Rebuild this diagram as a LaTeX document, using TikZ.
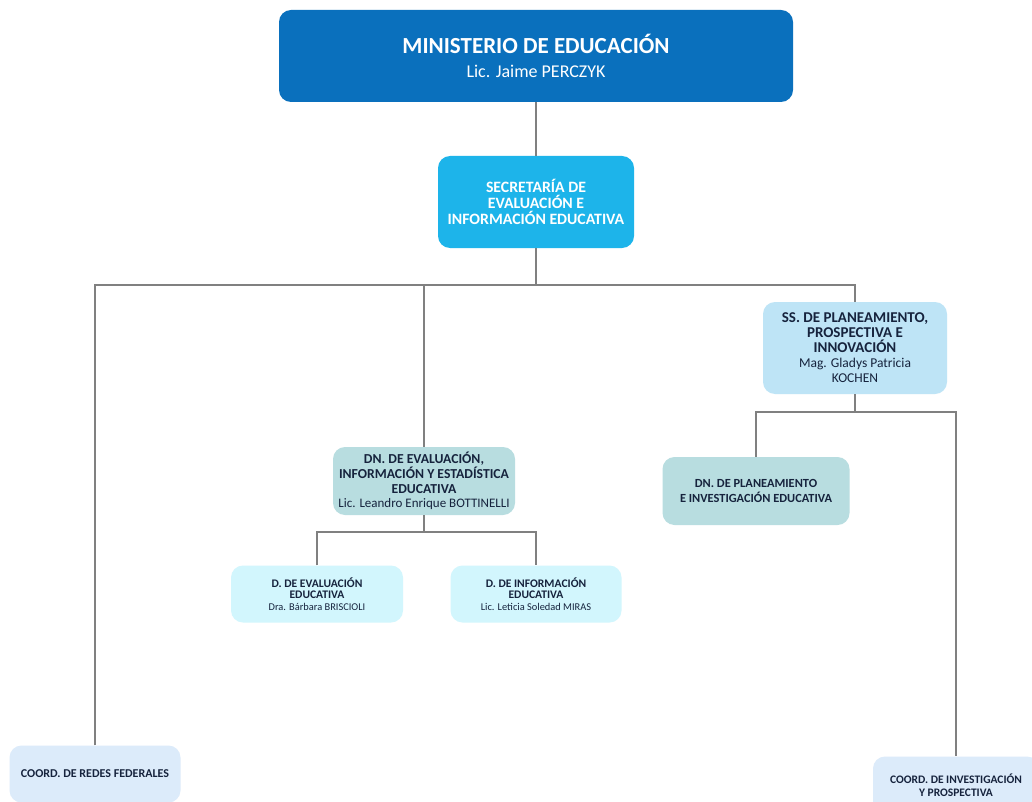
\documentclass[tikz,border=0pt]{standalone}
\usepackage{fontspec}
\setmainfont{Carlito}
\definecolor{azulmin}{HTML}{0A70BD}
\definecolor{celeste}{HTML}{1DB4EA}
\definecolor{celclaro}{HTML}{BEE4F6}
\definecolor{verdeagua}{HTML}{B8DDE0}
\definecolor{aguaclaro}{HTML}{D2F6FD}
\definecolor{azulpalido}{HTML}{DCEBFA}
\definecolor{tinta}{HTML}{16233D}

\begin{document}
\begin{tikzpicture}[x=1pt,y=-1pt,
    caja/.style={rounded corners=12pt,align=center,inner sep=1pt,text=tinta},
    linea/.style={draw=gray,line width=1.2pt}]
    \clip (0,0) rectangle (1032,802);
    \fill[white] (0,0) rectangle (1032,802);
    \node[caja,fill=azulmin,text=white,minimum width=514pt,minimum height=92pt,
        font=\fontsize{18}{24}\selectfont] (min) at (536,56)
        {{\fontsize{23}{24}\selectfont\bfseries MINISTERIO DE EDUCACIÓN}\\Lic. Jaime PERCZYK};
    \node[caja,fill=celeste,text=white,minimum width=196pt,minimum height=92pt,
        font=\fontsize{15.8}{16}\selectfont\bfseries] (sec) at (536,202)
        {SECRETARÍA DE\\EVALUACIÓN E\\INFORMACIÓN EDUCATIVA};
    \node[caja,fill=celclaro,minimum width=184pt,minimum height=92pt,
        font=\fontsize{13.5}{15}\selectfont] (ssp) at (855,348)
        {{\fontsize{15}{15}\selectfont\bfseries SS. DE PLANEAMIENTO,}\\{\fontsize{15}{15}\selectfont\bfseries PROSPECTIVA E}\\{\fontsize{15}{15}\selectfont\bfseries INNOVACIÓN}\\Mag. Gladys Patricia\\KOCHEN};
    \node[caja,fill=verdeagua,minimum width=182pt,minimum height=68pt,
        font=\fontsize{13}{14.7}\selectfont] (dneval) at (424,481)
        {{\fontsize{13.7}{14.7}\selectfont\bfseries DN. DE EVALUACIÓN,}\\{\fontsize{13.7}{14.7}\selectfont\bfseries INFORMACIÓN Y ESTADÍSTICA}\\{\fontsize{13.7}{14.7}\selectfont\bfseries EDUCATIVA}\\Lic. Leandro Enrique BOTTINELLI};
    \node[caja,fill=verdeagua,minimum width=187pt,minimum height=68pt,
        font=\fontsize{12.4}{15}\selectfont\bfseries] (dnplan) at (756,491)
        {DN. DE PLANEAMIENTO\\E INVESTIGACIÓN EDUCATIVA};
    \node[caja,fill=aguaclaro,minimum width=172pt,minimum height=57pt,
        font=\fontsize{10.4}{11.5}\selectfont] (deval) at (317,594)
        {{\fontsize{11.6}{11.5}\selectfont\bfseries D. DE EVALUACIÓN}\\{\fontsize{11.6}{11.5}\selectfont\bfseries EDUCATIVA}\\Dra. Bárbara BRISCIOLI};
    \node[caja,fill=aguaclaro,minimum width=171pt,minimum height=57pt,
        font=\fontsize{10.4}{11.5}\selectfont] (dinf) at (536,594)
        {{\fontsize{11.6}{11.5}\selectfont\bfseries D. DE INFORMACIÓN}\\{\fontsize{11.6}{11.5}\selectfont\bfseries EDUCATIVA}\\Lic. Leticia Soledad MIRAS};
    \node[caja,fill=azulpalido,minimum width=171pt,minimum height=57pt,
        font=\fontsize{12}{12}\selectfont\bfseries] (redes) at (95,774)
        {COORD. DE REDES FEDERALES};
    \node[caja,fill=azulpalido,minimum width=166pt,minimum height=57pt,
        font=\fontsize{11.5}{13}\selectfont\bfseries] (inv) at (956,785)
        {COORD. DE INVESTIGACIÓN\\Y PROSPECTIVA};
    \coordinate (b1) at (536,285);
    \coordinate (b2) at (855,412);
    \coordinate (b3) at (424,532);
    \draw[linea] (min) -- (sec);
    \draw[linea] (sec.south) -- (b1);
    \draw[linea] (redes.north) |- (b1 -| ssp.north) -- (ssp.north);
    \draw[linea] (dneval.north) -- (dneval.north |- b1);
    \draw[linea] (ssp.south) -- (b2);
    \draw[linea] (dnplan.north) |- (b2) -| (inv.north);
    \draw[linea] (dneval.south) -- (b3);
    \draw[linea] (deval.north) |- (b3) -| (dinf.north);
\end{tikzpicture}
\end{document}
